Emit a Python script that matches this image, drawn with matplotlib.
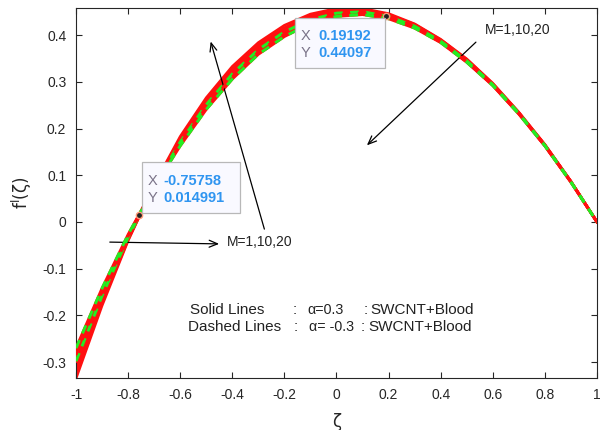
import numpy as np
import matplotlib
matplotlib.use("Agg")
import matplotlib.pyplot as plt
from matplotlib.patches import Rectangle

plt.rcParams["font.family"] = ["Liberation Sans", "DejaVu Sans"]

# ---- data ----
zeta = [-1.0, -0.9, -0.8, -0.7, -0.6, -0.5, -0.4, -0.3, -0.2, -0.1, 0.0,
        0.1, 0.2, 0.3, 0.4, 0.5, 0.6, 0.7, 0.8, 0.9, 1.0]

# Solid lines: alpha = 0.3, M = 1, 10, 20
solid_M1 = [-0.335, -0.179, -0.040, 0.080, 0.183, 0.266, 0.333, 0.384, 0.421, 0.445, 0.457,
            0.457, 0.446, 0.424, 0.391, 0.349, 0.297, 0.235, 0.166, 0.087, 0.0]
solid_M10 = [-0.323, -0.172, -0.038, 0.079, 0.179, 0.261, 0.328, 0.379, 0.416, 0.441, 0.454,
             0.455, 0.444, 0.423, 0.390, 0.348, 0.296, 0.234, 0.165, 0.087, 0.0]
solid_M20 = [-0.311, -0.165, -0.036, 0.078, 0.175, 0.256, 0.323, 0.374, 0.412, 0.437, 0.451,
             0.453, 0.442, 0.421, 0.389, 0.347, 0.295, 0.234, 0.165, 0.086, 0.0]
# Dashed lines: alpha = -0.3, M = 1, 10, 20
dashed_M1 = [-0.298, -0.158, -0.033, 0.077, 0.171, 0.251, 0.317, 0.369, 0.407, 0.433, 0.447,
             0.450, 0.440, 0.419, 0.387, 0.345, 0.294, 0.233, 0.164, 0.086, 0.0]
dashed_M10 = [-0.284, -0.150, -0.030, 0.076, 0.167, 0.246, 0.311, 0.364, 0.402, 0.429, 0.443,
              0.447, 0.438, 0.417, 0.385, 0.343, 0.293, 0.232, 0.163, 0.086, 0.0]
dashed_M20 = [-0.270, -0.142, -0.027, 0.075, 0.163, 0.241, 0.306, 0.359, 0.397, 0.425, 0.440,
              0.444, 0.435, 0.415, 0.384, 0.342, 0.292, 0.231, 0.163, 0.085, 0.0]

tip1 = (-0.75758, 0.014991)
tip2 = (0.19192, 0.44097)

xticks = [-1, -0.8, -0.6, -0.4, -0.2, 0, 0.2, 0.4, 0.6, 0.8, 1]
xticklabels = ["-1", "-0.8", "-0.6", "-0.4", "-0.2", "0", "0.2", "0.4", "0.6", "0.8", "1"]
yticks = [-0.3, -0.2, -0.1, 0, 0.1, 0.2, 0.3, 0.4]
yticklabels = ["-0.3", "-0.2", "-0.1", "0", "0.1", "0.2", "0.3", "0.4"]

# ---- figure ----
fig = plt.figure(figsize=(6.01, 4.30), dpi=100)
ax = fig.add_axes([0.1265, 0.1209, 0.8668, 0.8605])

for ys in (solid_M1, solid_M10, solid_M20):
    ax.plot(zeta, ys, color="#ff1010", lw=1.9, solid_capstyle="butt", zorder=2)
dash_cols = ["#22ee22", "#ff1010", "#22ee22"]
for ys, c in zip((dashed_M1, dashed_M10, dashed_M20), dash_cols):
    ax.plot(zeta, ys, color="#ff1010", lw=2.1, zorder=3)
    ax.plot(zeta, ys, color=c, lw=2.1, ls=(0, (3, 2.5)), zorder=4)

ax.set_xlim(-1, 1)
ax.set_ylim(-0.334, 0.458)
ax.set_xticks(xticks)
ax.set_xticklabels(xticklabels)
ax.set_yticks(yticks)
ax.set_yticklabels(yticklabels)
ax.tick_params(direction="in", length=4, width=0.8, top=True, right=True,
               labelsize=10, labelcolor="#262626", color="#262626", pad=7)
for s in ax.spines.values():
    s.set_color("#262626")
    s.set_linewidth(0.8)

ax.set_xlabel("ζ", fontsize=12, color="#262626", labelpad=8, family=["DejaVu Sans"])
ax.set_ylabel(r"f$^{\mathsf{I}}$(ζ)", fontsize=12, color="#262626", labelpad=6, family=["DejaVu Sans"])

# annotation text block
tk = dict(fontsize=11, color="#222222", va="center", ha="left")
ta = dict(fontsize=10.3, color="#222222", va="center", ha="left")
y1, y2 = -0.188, -0.224
ax.text(-0.562, y1, "Solid Lines", **tk)
ax.text(-0.167, y1, ":", **tk)
ax.text(-0.113, y1, "α=0.3", **ta)
ax.text(0.105, y1, ":", **tk)
ax.text(0.129, y1, "SWCNT+Blood", **tk)
ax.text(-0.570, y2, "Dashed Lines", **tk)
ax.text(-0.163, y2, ":", **tk)
ax.text(-0.106, y2, "α= -0.3", **ta)
ax.text(0.092, y2, ":", **tk)
ax.text(0.121, y2, "SWCNT+Blood", **tk)

arrow = dict(arrowstyle="->,head_length=0.6,head_width=0.25", color="black", lw=0.9)
ax.annotate("", xy=(-0.44, -0.047), xytext=(-0.881, -0.043), arrowprops=arrow)
ax.text(-0.42, -0.043, "M=1,10,20", fontsize=10, color="#222222", va="center", ha="left")
ax.annotate("", xy=(-0.486, 0.392), xytext=(-0.274, -0.021), arrowprops=arrow)
ax.annotate("", xy=(0.109, 0.160), xytext=(0.543, 0.389), arrowprops=arrow)
ax.text(0.57, 0.410, "M=1,10,20", fontsize=10, color="#222222", va="center", ha="left")

# data tips
for (tx, ty) in (tip1, tip2):
    ax.plot([tx], [ty], "o", ms=4.5, mfc="#222222", mec="#ff9977", mew=1.0, zorder=6)

boxes = [
    (0.1267, 0.446, 0.188, 0.138, (0.138, 0.532), (0.167, 0.532), (0.138, 0.486), (0.167, 0.486),
     "-0.75758", "0.014991"),
    (0.4203, 0.838, 0.1727, 0.135, (0.432, 0.924), (0.4645, 0.924), (0.432, 0.878), (0.4645, 0.878),
     "0.19192", "0.44097"),
]
for (x0, y0, w, h, px1, pv1, px2, pv2, v1, v2) in boxes:
    ax.add_patch(Rectangle((x0, y0), w, h, transform=ax.transAxes, facecolor="#f9f9ff",
                           edgecolor="#b8b8b8", lw=0.9, zorder=7))
    ax.text(*px1, "X", transform=ax.transAxes, fontsize=10.5, color="#7a7388", va="center", zorder=8)
    ax.text(*pv1, v1, transform=ax.transAxes, fontsize=10.5, color="#2f95f0", fontweight="bold",
            va="center", zorder=8)
    ax.text(*px2, "Y", transform=ax.transAxes, fontsize=10.5, color="#7a7388", va="center", zorder=8)
    ax.text(*pv2, v2, transform=ax.transAxes, fontsize=10.5, color="#2f95f0", fontweight="bold",
            va="center", zorder=8)

fig.savefig("out.png", dpi=100)
